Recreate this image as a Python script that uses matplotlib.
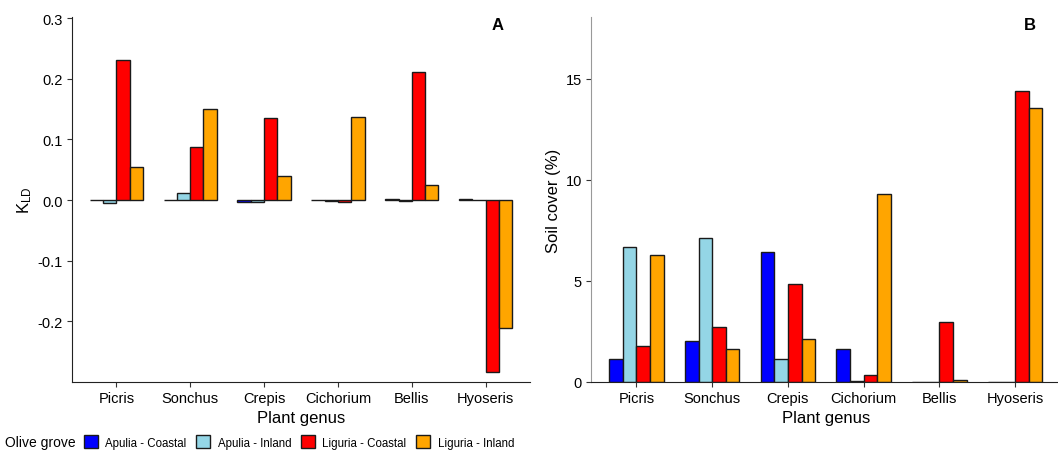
import matplotlib
matplotlib.use("Agg")
import matplotlib.pyplot as plt
import numpy as np
from matplotlib.patches import Patch

plt.rcParams['font.family'] = ['Liberation Sans', 'DejaVu Sans']
plt.rcParams['mathtext.fontset'] = 'custom'
plt.rcParams['mathtext.rm'] = 'Liberation Sans'
plt.rcParams['mathtext.it'] = 'Liberation Sans'

genera = ["Picris", "Sonchus", "Crepis", "Cichorium", "Bellis", "Hyoseris"]
groves = ["Apulia - Coastal", "Apulia - Inland", "Liguria - Coastal", "Liguria - Inland"]
colors = ["#0000FF", "#94D6E6", "#FF0000", "#FFA500"]

# Panel A: K_LD
kld_apulia_coastal = [0.000, 0.000, -0.003, 0.000, 0.002, 0.002]
kld_apulia_inland = [-0.004, 0.012, -0.003, -0.001, -0.001, 0.0005]
kld_liguria_coastal = [0.231, 0.087, 0.135, -0.003, 0.211, -0.283]
kld_liguria_inland = [0.054, 0.150, 0.040, 0.137, 0.025, -0.211]

# Panel B: soil cover (%)
cov_apulia_coastal = [1.14, 2.03, 6.44, 1.63, 0.0, 0.0]
cov_apulia_inland = [6.68, 7.13, 1.14, 0.05, 0.0, 0.0]
cov_liguria_coastal = [1.78, 2.72, 4.85, 0.35, 2.97, 14.4]
cov_liguria_inland = [6.29, 1.63, 2.13, 9.31, 0.10, 13.55]

W, H = 1058, 456
fig = plt.figure(figsize=(W / 100, H / 100), dpi=100)

axA = fig.add_axes([72 / W, (H - 383) / H, (530 - 72) / W, (383 - 18) / H])
axB = fig.add_axes([591 / W, (H - 383) / H, (1060.6 - 591) / W, (383 - 18) / H])

x = np.arange(len(genera))
bw = 0.18
offsets = np.array([-1.5, -0.5, 0.5, 1.5]) * bw

def draw(ax, series):
    for i, (vals, c) in enumerate(zip(series, colors)):
        ax.bar(x + offsets[i], vals, width=bw, color=c, edgecolor="#1a1a1a",
               linewidth=1.0, zorder=2)
    ax.set_xticks(x)
    ax.set_xticklabels(genera, fontsize=10.5)
    ax.set_xlim(-0.6, 5.6)
    ax.spines['top'].set_visible(False)
    ax.spines['right'].set_visible(False)
    ax.tick_params(axis='both', direction='out', length=3.5, width=0.8,
                   colors='#333333', labelcolor='black', labelsize=10.5, pad=3)
    ax.set_xlabel("Plant genus", fontsize=12, labelpad=3.5)

draw(axA, [kld_apulia_coastal, kld_apulia_inland, kld_liguria_coastal, kld_liguria_inland])
axA.set_ylim(-0.300, 0.302)
axA.set_yticks([-0.2, -0.1, 0.0, 0.1, 0.2, 0.3])
axA.set_yticklabels(["-0.2", "-0.1", "0.0", "0.1", "0.2", "0.3"])
axA.set_ylabel(r"K$_{\mathrm{LD}}$", fontsize=12, labelpad=3)
axA.spines['left'].set_color('#222222')
axA.spines['bottom'].set_color('#222222')

draw(axB, [cov_apulia_coastal, cov_apulia_inland, cov_liguria_coastal, cov_liguria_inland])
axB.set_ylim(0, 18.04)
axB.set_yticks([0, 5, 10, 15])
axB.set_ylabel("Soil cover (%)", fontsize=12, labelpad=3)
axB.spines['left'].set_color('#999999')
axB.spines['bottom'].set_color('#222222')

fig.text(498 / W, 1 - 25 / H, "A", fontsize=12, fontweight='bold', ha='center', va='center')
fig.text(1030 / W, 1 - 25 / H, "B", fontsize=12, fontweight='bold', ha='center', va='center')

# Legend
fig.text(5 / W, 1 - 443 / H, "Olive grove", fontsize=10, ha='left', va='center')
handles = [Patch(facecolor=c, edgecolor="#1a1a1a", linewidth=1.0) for c in colors]
fig.legend(handles, groves, loc='center left', bbox_to_anchor=(84 / W, 1 - 443 / H),
           ncol=4, frameon=False, fontsize=8.3, handlelength=1.2, handleheight=1.35,
           handletextpad=0.65, columnspacing=0.85, borderpad=0, borderaxespad=0)

fig.savefig("out.png", dpi=100)
